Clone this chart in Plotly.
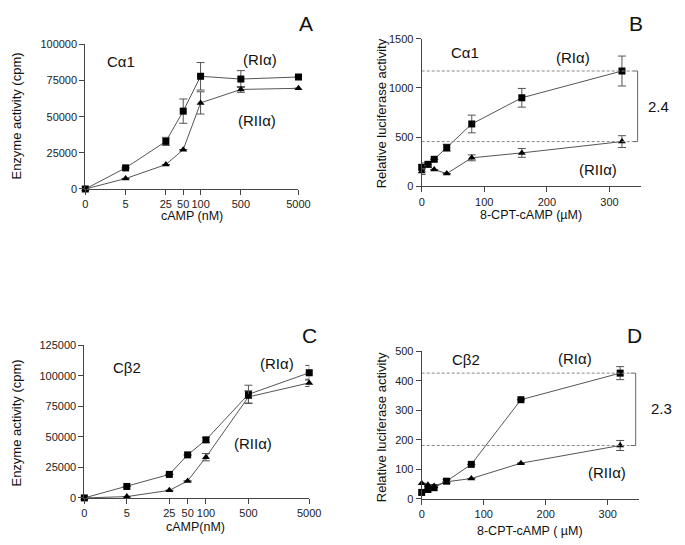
import numpy as np
import plotly.graph_objects as go

# ── data ──────────────────────────────────────────────────────────────────────

# Panels A / C: cAMP concentration (nM); 0 is drawn at the first log position
camp_nM = [0, 5, 25, 50, 100, 500, 5000]
camp_ticks = ["0", "5", "25", "50", "100", "500", "5000"]

a_ri = [0, 14600, 32900, 53800, 77900, 76000, 77400]
a_ri_err = [0, 0, 2800, 8400, 9500, 5800, 0]
a_rii = [0, 7200, 16900, 27200, 59500, 68800, 69600]
a_rii_err = [0, 0, 0, 0, 7700, 2000, 0]

c_ri = [0, 9400, 19300, 35300, 47600, 84900, 102600]
c_ri_err = [0, 0, 0, 0, 2000, 7500, 6000]
c_rii = [0, 1100, 6200, 13900, 33400, 82800, 94300]
c_rii_err = [0, 0, 0, 0, 3000, 5000, 3000]

# Panels B / D: 8-CPT-cAMP (uM)
cpt_uM = [0, 10, 20, 40, 80, 160, 320]

b_ri = [193, 224, 275, 393, 634, 900, 1172]
b_ri_err = [45, 0, 0, 35, 90, 95, 152]
b_rii = [150, 210, 170, 130, 290, 340, 455]
b_rii_err = [30, 0, 0, 0, 30, 45, 60]

d_ri = [22, 32, 38, 60, 117, 336, 426]
d_ri_err = [0, 0, 0, 6, 0, 0, 22]
d_rii = [53, 48, 44, 58, 69, 121, 181]
d_rii_err = [0, 0, 0, 0, 0, 0, 17]

# ── page geometry (the page body has an 8px margin) ───────────────────────────

OFF = 8
W, H = 685 - OFF, 545 - OFF
FONT = "Liberation Sans, Arial, sans-serif"
LINE = "#555555"
AXIS = "#444444"


def px(x, y):
    """screen pixel -> paper coords"""
    return (x - OFF) / W, 1 - (y - OFF) / H


def dom_x(left, right):
    return [(left - OFF) / W, (right - OFF) / W]


def dom_y(top, bottom):
    return [1 - (bottom - OFF) / H, 1 - (top - OFF) / H]


def series(x, y, err, symbol, xa, ya):
    return go.Scatter(
        x=x, y=y, xaxis=xa, yaxis=ya,
        mode="lines+markers", showlegend=False, cliponaxis=False,
        line=dict(color=LINE, width=1),
        marker=dict(symbol=symbol, size=7, color="black"),
        error_y=dict(type="data", array=err, visible=True,
                     color="#555555", thickness=1, width=4),
    )


log_x = [max(c, 1) for c in camp_nM]

fig = go.Figure()
fig.add_trace(series(log_x, a_ri, a_ri_err, "square", "x", "y"))
fig.add_trace(series(log_x, a_rii, a_rii_err, "triangle-up", "x", "y"))
fig.add_trace(series(cpt_uM, b_ri, b_ri_err, "square", "x2", "y2"))
fig.add_trace(series(cpt_uM, b_rii, b_rii_err, "triangle-up", "x2", "y2"))
fig.add_trace(series(log_x, c_ri, c_ri_err, "square", "x3", "y3"))
fig.add_trace(series(log_x, c_rii, c_rii_err, "triangle-up", "x3", "y3"))
fig.add_trace(series(cpt_uM, d_ri, d_ri_err, "square", "x4", "y4"))
fig.add_trace(series(cpt_uM, d_rii, d_rii_err, "triangle-up", "x4", "y4"))

ax_common = dict(
    showline=True, linecolor=AXIS, linewidth=1, showgrid=False, zeroline=False,
    ticks="outside", ticklen=5, tickcolor=AXIS, tickwidth=1,
    tickfont=dict(family=FONT, size=11, color="#222"),
    fixedrange=True,
)

def log_xaxis(dom, anchor):
    return dict(ax_common, type="log", domain=dom, anchor=anchor,
                range=[0, np.log10(max(camp_nM))],
                tickvals=log_x, ticktext=camp_ticks)

def lin_xaxis(dom, anchor):
    return dict(ax_common, domain=dom, anchor=anchor, range=[0, 350],
                tickvals=[0, 100, 200, 300])

def yaxis(dom, anchor, rng, dtick):
    return dict(ax_common, domain=dom, anchor=anchor, range=rng, dtick=dtick,
                tickformat="d")

fig.update_layout(
    width=W, height=H,
    margin=dict(l=0, r=0, t=0, b=0),
    plot_bgcolor="white", paper_bgcolor="white",
    font=dict(family=FONT, color="#222"),
    xaxis=log_xaxis(dom_x(84, 302), "y"),
    yaxis=yaxis(dom_y(39, 187), "x", [0, 100000], 25000),
    xaxis2=lin_xaxis(dom_x(428, 652), "y2"),
    yaxis2=yaxis(dom_y(33.3, 184.3), "x2", [0, 1500], 500),
    xaxis3=log_xaxis(dom_x(83, 313), "y3"),
    yaxis3=yaxis(dom_y(347, 503), "x3", [0, 125000], 25000),
    xaxis4=lin_xaxis(dom_x(428, 650), "y4"),
    yaxis4=yaxis(dom_y(353, 504), "x4", [0, 500], 100),
)

# dashed reference lines and bracket (B and D), from the last data points
for xa, ya, top, bot in [("x2", "y2", b_ri[-1], b_rii[-1]),
                         ("x4", "y4", d_ri[-1], d_rii[-1])]:
    for yv in (top, bot):
        fig.add_shape(type="line", xref=xa, yref=ya, x0=0, x1=337, y0=yv, y1=yv,
                      line=dict(color="#888", width=1, dash="3px,2px"))
    fig.add_shape(type="path", xref=xa, yref=ya,
                  path=f"M 337 {top} L 345 {top} L 345 {bot} L 337 {bot}",
                  line=dict(color="#666", width=1))

def text(s, x, y, size=15, angle=0):
    xp, yp = px(x, y)
    fig.add_annotation(text=s, x=xp, y=yp, xref="paper", yref="paper",
                       xanchor="center", yanchor="middle",
                       showarrow=False, textangle=angle,
                       font=dict(family=FONT, size=size, color="#111"))

# panel letters
text("A", 310, 18, 21)
text("B", 647, 18, 21)
text("C", 313, 337, 21)
text("D", 646, 337, 21)

# panel labels
text("Cα1", 120, 57)
text("(RIα)", 263, 55)
text("(RIIα)", 260, 117)
text("Cα1", 472, 47)
text("(RIα)", 583, 52)
text("(RIIα)", 608, 167)
text("2.4", 670, 103)
text("Cβ2", 127, 370)
text("(RIα)", 280, 365)
text("(RIIα)", 255, 447)
text("Cβ2", 473, 361)
text("(RIα)", 585, 360)
text("(RIIα)", 617, 477)
text("2.3", 673, 412)

# axis titles
text("Enzyme activity (cpm)", 14, 112, 13, -90)
text("Enzyme activity (cpm)", 14, 426, 13, -90)
text("Relative luciferase activity", 387, 110, 13, -90)
text("Relative luciferase activity", 387, 431, 13, -90)
text("cAMP (nM)", 193, 215, 12.5)
text("8-CPT-cAMP (µM)", 540, 214, 12.5)
text("cAMP(nM)", 197, 533, 12.5)
text("8-CPT-cAMP ( µM)", 539, 537, 12.5)

fig.write_html("out.html")
